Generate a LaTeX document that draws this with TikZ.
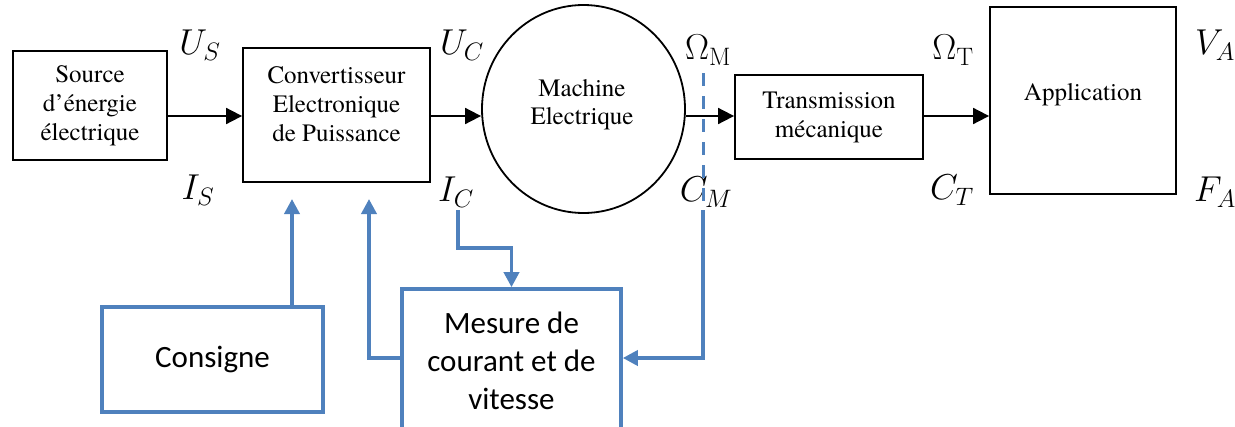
\documentclass[tikz,border=0pt]{standalone}
\usepackage{fix-cm}
\usepackage{fontspec}
\IfFontExistsTF{texgyretermes-regular.otf}{%
  \newfontfamily\tnr{texgyretermes-regular.otf}}{%
  \newfontfamily\tnr{Liberation Serif}}
\newfontfamily\calibri{Carlito}
\usetikzlibrary{arrows.meta,shapes.geometric}
\definecolor{obl}{RGB}{79,129,189}
\tikzset{
  blk/.style={draw, line width=1.8pt, inner sep=0pt, align=center,
    font=\tnr\fontsize{25}{29}\selectfont},
  txt/.style={inner sep=0pt, align=center, font=\tnr\fontsize{25}{29}\selectfont},
  bbox/.style={draw=obl, line width=3.6pt, inner sep=0pt, align=center,
    font=\calibri\fontsize{31}{38}\selectfont},
  var/.style={inner sep=0pt, font=\fontsize{36}{40}\selectfont},
  blkarrow/.style={line width=1.8pt, -{Triangle[length=16pt,width=16pt]}},
  bluearrow/.style={draw=obl, line width=3.6pt, -{Triangle[length=15pt,width=15pt]}, color=obl},
}
\begin{document}
\begin{tikzpicture}[x=1pt,y=-1pt]
\useasboundingbox (0,0) rectangle (1235,426);
% black blocks
\node[blk, minimum width=154pt, minimum height=109pt] (src) at (90,105.5) {Source\\d’énergie\\électrique};
\node[blk, minimum width=187pt, minimum height=134pt] (conv) at (336.5,115) {};
\node[txt] (convtxt) at (336.5,104.5) {Convertisseur\\Electronique\\de Puissance};
\node[blk, ellipse, minimum width=203pt, minimum height=208pt] (mach) at (583.5,109) {};
\node[txt, font=\tnr\fontsize{25}{28}\selectfont] (machtxt) at (582,105) {Machine\\Electrique};
\node[blk, minimum width=188pt, minimum height=84pt] (trans) at (829,117) {Transmission\\mécanique};
\node[blk, minimum width=186pt, minimum height=187pt] (app) at (1083,100.5) {};
\node[txt] (apptxt) at (1083,95) {Application};
% variables
\node[var] (us) at (200,45) {$U_S$};
\node[var] (is) at (198,190) {$I_S$};
\node[var] (uc) at (462,45) {$U_C$};
\node[var] (ic) at (456,192) {$I_C$};
\node[var] (om) at (708,50) {$\Omega_{\mathrm{M}}$};
\node[var] (cmv) at (706,192) {$C_M$};
\node[var] (ot) at (953,50) {$\Omega_{\mathrm{T}}$};
\node[var] (ct) at (952,190) {$C_T$};
\node[var] (va) at (1215,45) {$V_A$};
\node[var] (fa) at (1215,192) {$F_A$};
% black arrows
\coordinate (row) at (0,116);
\draw[blkarrow] (src.east |- row) -- (conv.west |- row);
\draw[blkarrow] (conv.east |- row) -- (mach.west |- row);
\draw[blkarrow] (mach.east |- row) -- (trans.west |- row);
\draw[blkarrow] (trans.east |- row) -- (app.west |- row);
% blue blocks
\node[bbox, minimum width=221pt, minimum height=105pt] (cons) at (212.5,359.5) {Consigne};
\node[bbox, minimum width=219pt, minimum height=143pt] (mes) at (511.5,360.5) {Mesure de\\courant et de\\vitesse};
% blue connectors
\coordinate (t1) at (292,199);
\coordinate (t2) at (369,199);
\coordinate (icp) at (458,210);
\coordinate (cmp) at (703,210);
\coordinate (dtop) at (703,73);
\draw[bluearrow] (cons.north -| t1) -- (t1);
\draw[bluearrow] (mes.west |- 0,358) -| (t2);
\draw[bluearrow] (icp) |- ([yshift=39pt]mes.north) -- (mes.north);
\draw[bluearrow] (cmp) |- (mes.east |- 0,358);
\draw[draw=obl, line width=3pt, dash pattern=on 13pt off 10pt] (dtop) -- (cmp);
\end{tikzpicture}
\end{document}
